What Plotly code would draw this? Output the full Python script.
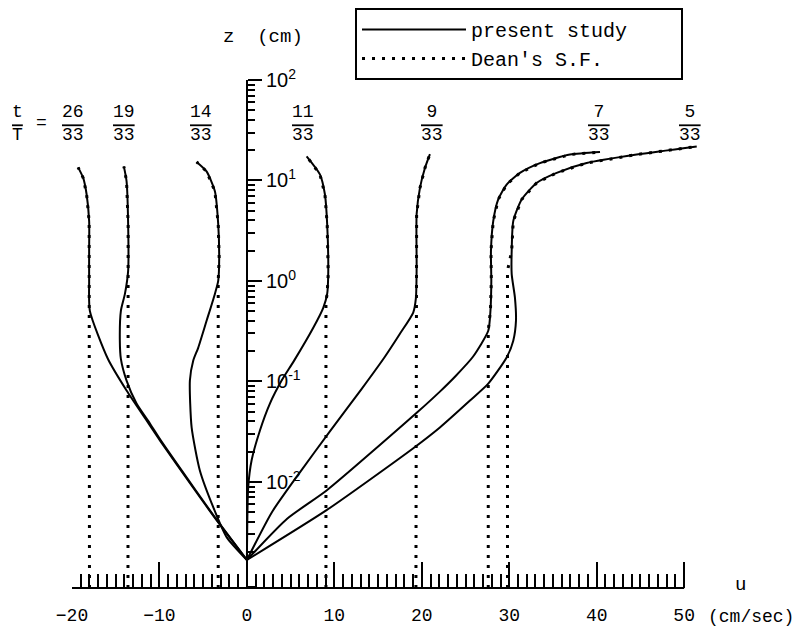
import plotly.graph_objects as go

# ---------------- data ----------------
phase_labels = ["26/33", "19/33", "14/33", "11/33", "9/33", "7/33", "5/33"]

# present study: velocity u (cm/s) vs height z (cm), top to bottom
u_26 = [-19.30, -18.72, -18.33, -18.04, -18.04, -18.04, -17.96, -15.90, -13.76, -11.47, -9.95, -6.18, -3.47, 0.0]
z_26 = [13.5, 10.6, 7.29, 3.94, 1.99, 1.0, 0.504, 0.168, 0.0811, 0.0408, 0.0259, 0.00884, 0.00416, 0.00167]

u_19 = [-14.07, -13.76, -13.58, -13.58, -13.95, -14.41, -14.53, -14.41, -13.76, -12.62, -11.09, -9.85, -6.10, -3.42, 0.0]
z_19 = [13.8, 9.82, 3.68, 1.26, 0.743, 0.504, 0.254, 0.168, 0.102, 0.0602, 0.0381, 0.0259, 0.00884, 0.00416, 0.00167]

u_14 = [-5.75, -4.61, -3.66, -3.28, -3.17, -3.28, -3.66, -4.61, -5.57, -6.14, -6.52, -6.32, -5.38, -3.85, -2.32, 0.0]
z_14 = [15.3, 12.3, 7.81, 3.68, 1.69, 1.0, 0.743, 0.401, 0.216, 0.161, 0.102, 0.0348, 0.0130, 0.00560, 0.00282, 0.00167]

u_11 = [6.83, 8.35, 8.92, 9.18, 9.30, 9.18, 8.73, 7.59, 5.40, 3.97, 2.63, 1.49, 0.54, 0.15, 0.0]
z_11 = [17.4, 11.5, 7.29, 3.68, 1.17, 0.743, 0.540, 0.342, 0.161, 0.102, 0.0602, 0.0325, 0.0164, 0.00884, 0.00167]

u_9 = [20.93, 20.36, 19.79, 19.41, 19.41, 19.33, 19.02, 17.50, 15.78, 13.15, 9.49, 6.06, 2.86, 0.0]
z_9 = [18.3, 13.3, 8.43, 4.62, 1.35, 0.678, 0.485, 0.298, 0.176, 0.0848, 0.0318, 0.01245, 0.00499, 0.00167]

u_7 = [40.38, 36.94, 33.51, 31.22, 29.70, 28.74, 28.17, 27.91, 27.95, 27.85, 27.60, 25.85, 23.90, 22.07, 19.45, 9.15, 4.6, 0.0]
z_7 = [19.2, 18.1, 14.9, 11.9, 9.10, 6.47, 3.94, 1.99, 1.0, 0.504, 0.319, 0.176, 0.114, 0.0792, 0.049, 0.00826, 0.0043, 0.00167]

u_5 = [51.44, 44.57, 38.85, 35.42, 33.13, 31.42, 30.46, 30.28, 30.28, 30.65, 30.77, 30.46, 29.70, 27.60, 25.51, 22.07, 18.99, 9.11, 0.0]
z_5 = [21.8, 18.1, 14.9, 11.9, 9.44, 6.47, 3.94, 1.99, 1.17, 0.683, 0.401, 0.254, 0.173, 0.095, 0.0645, 0.0348, 0.0215, 0.00523, 0.00167]

present_u = [u_26, u_19, u_14, u_11, u_9, u_7, u_5]
present_z = [z_26, z_19, z_14, z_11, z_9, z_7, z_5]

# Dean's stream function: uniform u near the bed, joining the profile above z_join
dean_u = [-18.0, -13.6, -3.28, 9.04, 19.33, 27.6, 29.8]
dean_join_z = [0.48, 1.26, 0.80, 0.63, 0.50, 0.32, 1.26]

# axes
x_major = [-20, -10, 0, 10, 20, 30, 40, 50]
x_minor = list(range(-20, 51))
y_major = [0.01, 0.1, 1, 10, 100]
y_major_text = ["10<sup>-2</sup>", "10<sup>-1</sup>", "10<sup>0</sup>", "10<sup>1</sup>", "10<sup>2</sup>"]
y_minor = [k * 10.0 ** e for e in range(-4, 2) for k in range(2, 10)]

# ---------------- layout constants ----------------
X_RANGE = [-20, 52.5]
LOGZ_RANGE = [-3.056, 2]
z_floor = 10 ** LOGZ_RANGE[0]
label_u = [-19.9, -14.1, -5.2, 6.4, 21.2, 40.3, 50.7]
PAD = "\u00a0" * 4

MONO = "Liberation Mono"
SANS = "Liberation Sans"

fig = go.Figure()

for i, (uu, zz) in enumerate(zip(present_u, present_z)):
    fig.add_trace(go.Scatter(
        x=uu, y=zz, mode="lines", line=dict(color="black", width=2, shape="spline", smoothing=0.6),
        name="present study" + PAD, legendgroup="a", showlegend=(i == 0), hoverinfo="skip"))

for i, (uu, zz) in enumerate(zip(present_u, present_z)):
    ud, zj = dean_u[i], dean_join_z[i]
    upper = [(a, b) for a, b in zip(uu, zz) if b > zj]
    xs = [a for a, b in upper][::-1]
    ys = [b for a, b in upper][::-1]
    xs = [ud, ud] + xs
    ys = [z_floor, zj] + ys
    fig.add_trace(go.Scatter(
        x=xs, y=ys, mode="lines", line=dict(color="black", width=3, dash="3px,7px"),
        name="Dean's S.F.", legendgroup="b", showlegend=(i == 0), hoverinfo="skip"))


def pax(px):
    # pixel column -> paper x for the 72..706 plot area
    return (px - 72) / 634.0


ann = []
for lab, ux in zip(phase_labels, label_u):
    num, den = lab.split("/")
    ann.append(dict(x=ux, y=0.915, xref="x", yref="paper", showarrow=False,
                    xanchor="center", yanchor="middle",
                    text=num + "<br><span style='text-decoration:overline'>" + den + "</span>",
                    font=dict(family=MONO, size=18, color="black"), align="center"))
ann.append(dict(x=pax(17), y=0.915, xref="paper", yref="paper", showarrow=False,
                xanchor="center", yanchor="middle",
                text="t<br><span style='text-decoration:overline'>T</span>",
                font=dict(family=MONO, size=18, color="black"), align="center"))
ann.append(dict(x=pax(41), y=0.915, xref="paper", yref="paper", showarrow=False, text="=",
                xanchor="center", yanchor="middle",
                font=dict(family=MONO, size=18, color="black")))
ann.append(dict(x=pax(263), y=1.085, xref="paper", yref="paper", showarrow=False, text="z  (cm)",
                xanchor="center", yanchor="middle",
                font=dict(family=MONO, size=19, color="black")))
ann.append(dict(x=pax(740), y=0.005, xref="paper", yref="paper", showarrow=False, text="u",
                xanchor="center", yanchor="middle",
                font=dict(family=MONO, size=19, color="black")))
ann.append(dict(x=pax(751), y=-0.057, xref="paper", yref="paper", showarrow=False, text="(cm/sec)",
                xanchor="center", yanchor="middle",
                font=dict(family=MONO, size=18, color="black")))

fig.update_layout(
    width=804, height=628,
    margin=dict(l=72, r=98, t=80, b=40, autoexpand=False),
    paper_bgcolor="white", plot_bgcolor="white",
    annotations=ann,
    shapes=[dict(type="line", xref="x", yref="paper", x0=x_major[0], x1=x_major[-1], y0=0, y1=0,
                 line=dict(color="black", width=2))],
    legend=dict(x=pax(355), y=(588 - 8) / 508.0, xanchor="left", yanchor="top",
                bgcolor="white", bordercolor="black", borderwidth=2,
                font=dict(family=MONO, size=20, color="black"),
                itemwidth=104, tracegroupgap=0),
    xaxis=dict(range=X_RANGE, showline=False, showgrid=False, zeroline=False, automargin=False,
               tickmode="array", tickvals=x_major, ticks="inside", ticklen=26, tickwidth=2,
               tickcolor="black", ticklabelstandoff=14,
               tickfont=dict(family=MONO, size=18, color="black"),
               minor=dict(tickmode="array", tickvals=x_minor, ticks="inside", ticklen=14,
                          tickwidth=2, tickcolor="black", showgrid=False)),
    yaxis=dict(type="log", range=LOGZ_RANGE, anchor="free", automargin=False,
               position=(0 - X_RANGE[0]) / (X_RANGE[1] - X_RANGE[0]), side="right",
               showline=True, linecolor="black", linewidth=2, showgrid=False, zeroline=False,
               tickmode="array", tickvals=y_major, ticktext=y_major_text,
               ticks="outside", ticklen=14, tickwidth=2, tickcolor="black",
               tickfont=dict(family=SANS, size=20, color="black"),
               minor=dict(tickmode="array", tickvals=y_minor, ticks="outside", ticklen=7,
                          tickwidth=2, tickcolor="black", showgrid=False)),
)

fig.write_html("out.html")
